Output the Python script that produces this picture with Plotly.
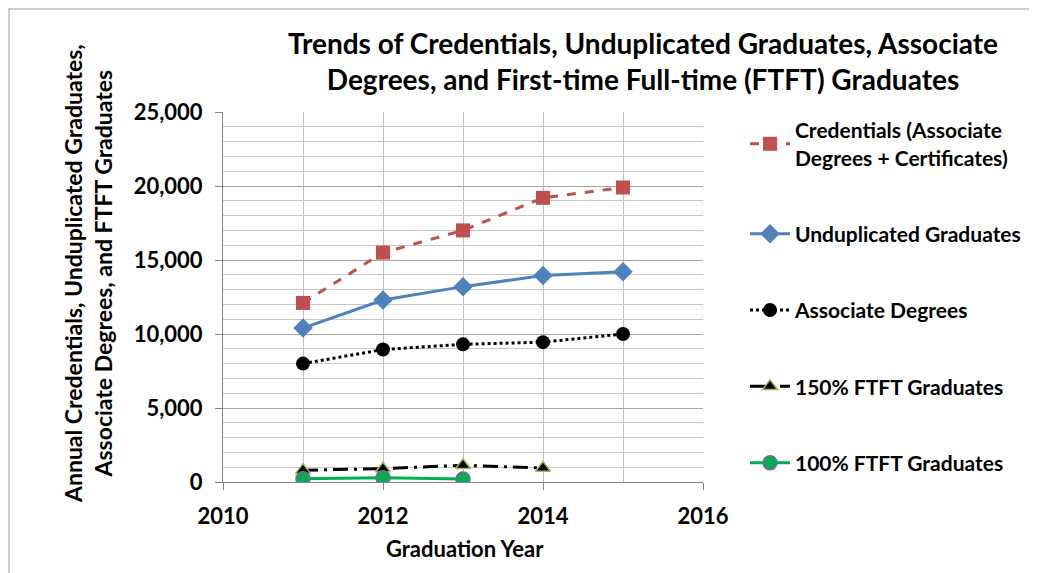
import plotly.graph_objects as go

years = [2011, 2012, 2013, 2014, 2015]
credentials = [12100, 15500, 17000, 19200, 19900]
unduplicated = [10400, 12300, 13200, 13950, 14200]
associate = [8000, 8950, 9300, 9450, 10000]
ftft_150_years = [2011, 2012, 2013, 2014]
ftft_150 = [800, 900, 1130, 950]
ftft_100_years = [2011, 2012, 2013]
ftft_100 = [225, 290, 200]

FONT = "Lato, 'Open Sans', sans-serif"


def bold(size):
    return dict(family=FONT, size=size, color="black", weight="bold")


# plot area in figure pixels (page body adds an 8px offset)
L, R, T, B = 215, 695, 104, 474
PW, PH = R - L, B - T

fig = go.Figure()
fig.add_trace(go.Scatter(
    x=years, y=credentials, mode="lines+markers", legendgroup="a",
    name="Credentials (Associate<br>Degrees + Certificates)",
    line=dict(color="#C0504D", width=3, dash="dash"),
    marker=dict(symbol="square", size=14, color="#C0504D"),
))
fig.add_trace(go.Scatter(
    x=years, y=unduplicated, mode="lines+markers", legendgroup="b",
    name="Unduplicated Graduates",
    line=dict(color="#4F81BD", width=3),
    marker=dict(symbol="diamond", size=15, color="#4F81BD"),
))
fig.add_trace(go.Scatter(
    x=years, y=associate, mode="lines+markers", legendgroup="c",
    name="Associate Degrees",
    line=dict(color="black", width=3, dash="dot"),
    marker=dict(symbol="circle", size=14, color="black"),
))
fig.add_trace(go.Scatter(
    x=ftft_150_years, y=ftft_150, mode="lines+markers", legendgroup="d",
    name="150% FTFT Graduates",
    line=dict(color="black", width=3, dash="longdashdot"),
    marker=dict(symbol="triangle-up", size=13, color="black",
                line=dict(color="#9BBB59", width=1.5)),
))
fig.add_trace(go.Scatter(
    x=ftft_100_years, y=ftft_100, mode="lines+markers", legendgroup="e",
    name="100% FTFT Graduates",
    line=dict(color="#00B050", width=3),
    marker=dict(symbol="circle", size=14, color="#00B050",
                line=dict(color="#8064A2", width=1.5)),
))

fig.update_layout(
    width=1037, height=573,
    paper_bgcolor="white", plot_bgcolor="white",
    margin=dict(l=L, r=1037 - R, t=T, b=573 - B, autoexpand=False),
    font=bold(22),
    title=dict(
        text="Trends of Credentials, Unduplicated Graduates, Associate<br>Degrees, and First-time Full-time (FTFT) Graduates",
        x=635 / 1037, xanchor="center", y=1 - 46 / 573, yanchor="middle",
        font=bold(28),
    ),
    legend=dict(
        x=(737 - L) / PW, xanchor="left", y=(B - 102) / PH, yanchor="top",
        tracegroupgap=46, font=bold(21), bgcolor="rgba(0,0,0,0)",
        itemwidth=40, maxheight=520,
    ),
    xaxis=dict(
        range=[2010, 2016], tickvals=[2010, 2012, 2014, 2016],
        showgrid=True, gridcolor="#BFBFBF", gridwidth=1,
        minor=dict(dtick=1, tick0=2010, showgrid=True, gridcolor="#BFBFBF"),
        ticks="outside", ticklen=7, tickcolor="#868686",
        showline=True, linecolor="#868686", linewidth=1, zeroline=False,
        tickfont=bold(22), ticklabelstandoff=8,
    ),
    yaxis=dict(
        range=[0, 25000], dtick=5000, tickformat=",d",
        showgrid=True, gridcolor="#A6A6A6", gridwidth=1,
        minor=dict(dtick=1000, showgrid=True, gridcolor="#C8C8C8"),
        ticks="outside", ticklen=7, tickcolor="#868686",
        showline=True, linecolor="#868686", linewidth=1, zeroline=False,
        tickfont=bold(22), ticklabelstandoff=8,
    ),
    annotations=[
        dict(
            text="Annual Credentials, Unduplicated Graduates,<br>Associate Degrees, and FTFT Graduates",
            xref="paper", yref="paper", x=(80 - L) / PW, y=(B - 266) / PH,
            xanchor="center", yanchor="middle", textangle=-90,
            showarrow=False, font=bold(23),
        ),
        dict(
            text="Graduation Year",
            xref="paper", yref="paper", x=(457 - L) / PW, y=(B - 540) / PH,
            xanchor="center", yanchor="middle",
            showarrow=False, font=bold(22),
        ),
    ],
    shapes=[dict(
        type="rect", xref="paper", yref="paper",
        x0=(1 - L) / PW, x1=(1022 - L) / PW, y0=(B - 600) / PH, y1=(B - 1) / PH,
        line=dict(color="#BFBFBF", width=1.5),
    )],
)

fig.write_html("out.html")
